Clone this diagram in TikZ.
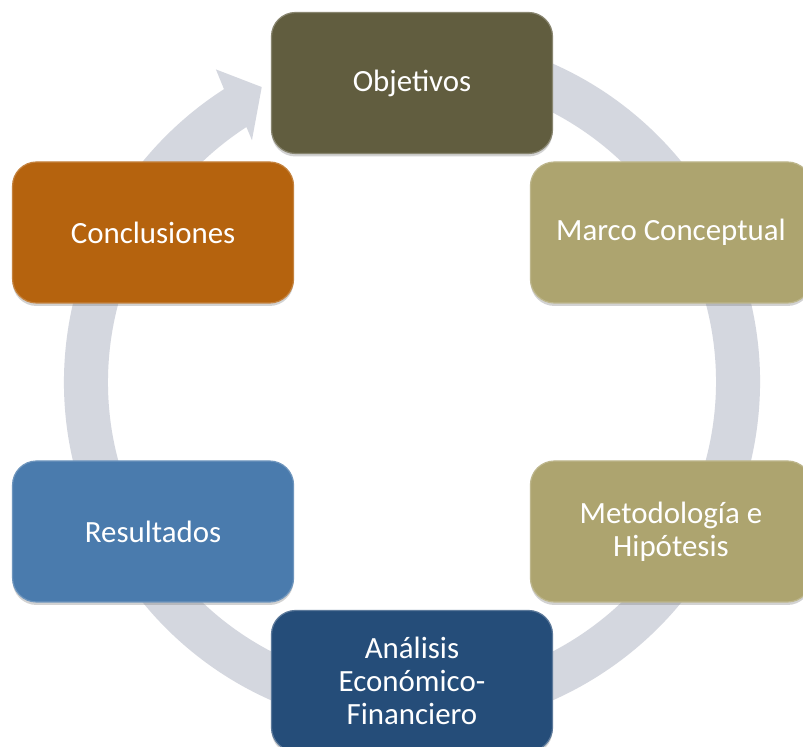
\documentclass[tikz,border=0pt]{standalone}
\usepackage{fontspec}
\setmainfont{Carlito}
\usetikzlibrary{shadows,calc}

\definecolor{ringgray}{RGB}{212,215,223}
\definecolor{olivedark}{RGB}{97,93,63}
\definecolor{olivelight}{RGB}{173,164,111}
\definecolor{rust}{RGB}{181,99,14}
\definecolor{steelblue}{RGB}{74,123,173}
\definecolor{navyblue}{RGB}{37,77,121}

\tikzset{
  stage/.style={
    rounded corners=24bp, minimum width=281bp, minimum height=141bp,
    text=white, align=center, inner sep=0pt,
    font=\fontsize{31}{33}\selectfont, line width=1.2bp,
    drop shadow={shadow xshift=0bp, shadow yshift=-3bp, opacity=0.35}
  },
  ringarrow/.style={fill=ringgray, draw=none}
}

\begin{document}
\begin{tikzpicture}[x=1bp, y=1bp]
  \useasboundingbox (0,0) rectangle (803,747);
  \fill[white] (0,0) rectangle (803,747);
  \coordinate (c) at (412,365);

  % circular arrow behind the stages
  \fill[ringarrow]
    ($(c)+(80:348)$) arc[start angle=80, end angle=-237.3, radius=348]
    -- ($(c)+(122.1:369)$)
    -- ($(c)+(117:331)$)
    -- ($(c)+(123.5:290)$)
    -- ($(c)+(123:304)$)
    arc[start angle=-237, end angle=80, radius=304] -- cycle;

  % stages of the cycle
  \node[stage, fill=olivedark, draw=olivedark!75!white] (obj) at ($(c)+(90:299)$) {Objetivos};
  \node[stage, fill=olivelight, draw=olivelight!80!white] (marco) at ($(c)+(30:299)$) {Marco Conceptual};
  \node[stage, fill=olivelight, draw=olivelight!80!white] (metod) at ($(c)+(-30:299)$) {Metodología e\\Hipótesis};
  \node[stage, fill=navyblue, draw=navyblue!75!white] (anal) at ($(c)+(-90:299)$) {Análisis\\Económico-\\Financiero};
  \node[stage, fill=steelblue, draw=steelblue!80!white] (res) at ($(c)+(210:299)$) {Resultados};
  \node[stage, fill=rust, draw=rust!80!white] (concl) at ($(c)+(150:299)$) {Conclusiones};
\end{tikzpicture}
\end{document}
